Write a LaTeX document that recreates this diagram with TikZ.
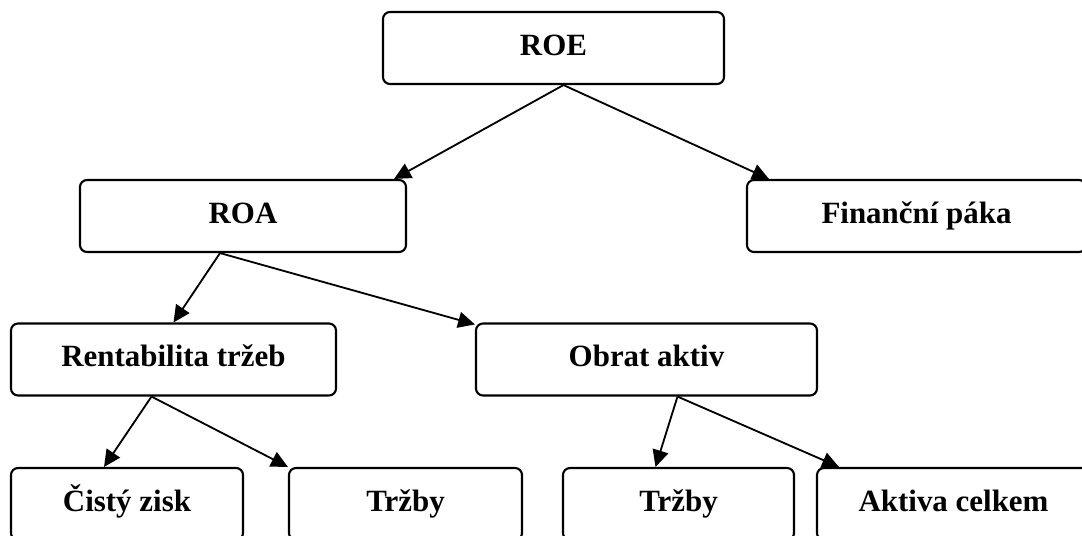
\documentclass[tikz,border=0pt]{standalone}
\usepackage{fontspec}
\setmainfont{Liberation Serif}
\usetikzlibrary{arrows.meta,calc}
\begin{document}
\begin{tikzpicture}[x=0.025cm,y=-0.025cm,
    box/.style={draw, line width=1.5pt, rounded corners=5pt, minimum height=72*0.025cm, inner sep=0pt,
      text height=1.12em, text depth=0.1em, font=\fontsize{22}{27}\selectfont\bfseries},
    arr/.style={-{Triangle[length=0.42cm,width=0.40cm]}, line width=1.3pt}]
    \clip (0,0) rectangle (1082,535);
    \fill[white] (0,0) rectangle (1082,535);
% boxes
\node[box, minimum width=341*0.025cm] (roe) at (553.5,48) {ROE};
\node[box, minimum width=326*0.025cm] (roa) at (243,216) {ROA};
\node[box, minimum width=339*0.025cm] (paka) at (916.5,216) {Finanční páka};
\node[box, minimum width=325*0.025cm] (rent) at (173.5,359.5) {Rentabilita tržeb};
\node[box, minimum width=341*0.025cm] (obrat) at (646.5,359.5) {Obrat aktiv};
\node[box, minimum width=232*0.025cm] (zisk) at (127,504) {Čistý zisk};
\node[box, minimum width=233*0.025cm] (trzbyA) at (405.5,504) {Tržby};
\node[box, minimum width=231*0.025cm] (trzbyB) at (678.5,504) {Tržby};
\node[box, minimum width=273*0.025cm] (aktiva) at (953.5,504) {Aktiva celkem};

% arrows
\draw[arr] ($(roe.south)+(10,0)$) -- ($(roa.north east)+(-13,0)$);
\draw[arr] ($(roe.south)+(10,0)$) -- ($(paka.north west)+(23,0)$);
\draw[arr] ($(roa.south)+(-23,0)$) -- (rent.north);
\draw[arr] ($(roa.south)+(-23,0)$) -- ($(obrat.north west)+(0,2)$);
\draw[arr] ($(rent.south)+(-22,0)$) -- ($(zisk.north)+(-23,0)$);
\draw[arr] ($(rent.south)+(-22,0)$) -- (trzbyA.north west);
\draw[arr] ($(obrat.south)+(31,0)$) -- ($(trzbyB.north)+(-23,0)$);
\draw[arr] ($(obrat.south)+(31,0)$) -- ($(aktiva.north west)+(23,0)$);

\end{tikzpicture}
\end{document}
